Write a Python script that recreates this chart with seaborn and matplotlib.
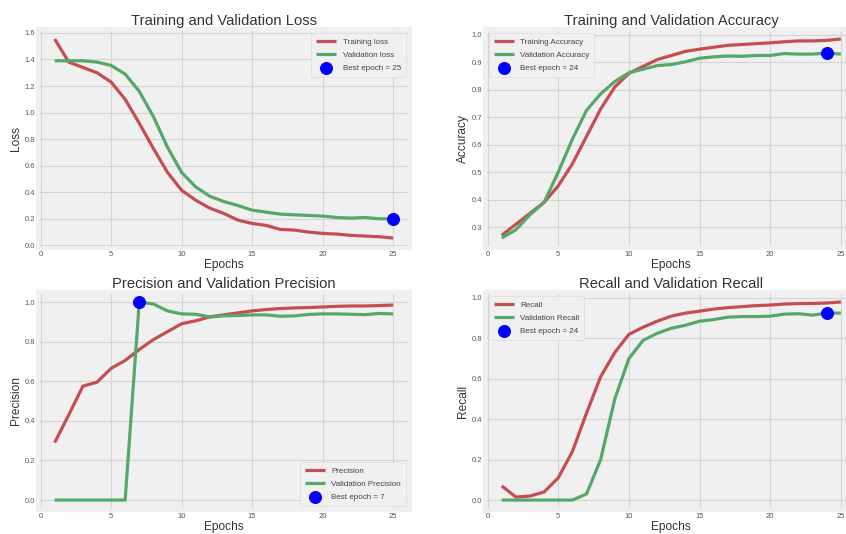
import matplotlib
matplotlib.use('Agg')
import matplotlib.pyplot as plt
import pandas as pd
import seaborn as sns

epochs = list(range(1, 26))

train_loss = [1.554, 1.38, 1.34, 1.30, 1.23, 1.10, 0.92, 0.73, 0.55, 0.415, 0.34, 0.28, 0.24, 0.19, 0.165,
              0.15, 0.12, 0.115, 0.10, 0.09, 0.085, 0.075, 0.07, 0.065, 0.055]
val_loss = [1.39, 1.39, 1.39, 1.38, 1.355, 1.29, 1.16, 0.97, 0.74, 0.55, 0.44, 0.37, 0.33, 0.30, 0.265,
            0.25, 0.235, 0.23, 0.225, 0.22, 0.21, 0.205, 0.21, 0.20, 0.199]

train_acc = [0.27, 0.31, 0.35, 0.39, 0.45, 0.53, 0.63, 0.73, 0.81, 0.86, 0.885, 0.91, 0.925, 0.94, 0.948,
             0.955, 0.962, 0.965, 0.968, 0.971, 0.975, 0.978, 0.978, 0.980, 0.985]
val_acc = [0.26, 0.29, 0.345, 0.39, 0.50, 0.62, 0.725, 0.785, 0.83, 0.862, 0.875, 0.888, 0.892, 0.902, 0.915,
           0.92, 0.923, 0.922, 0.925, 0.925, 0.932, 0.930, 0.930, 0.934, 0.930]

train_prec = [0.29, 0.43, 0.575, 0.595, 0.665, 0.705, 0.76, 0.81, 0.85, 0.89, 0.905, 0.925, 0.935, 0.945, 0.955,
              0.962, 0.967, 0.97, 0.972, 0.975, 0.978, 0.98, 0.98, 0.982, 0.985]
val_prec = [0.0, 0.0, 0.0, 0.0, 0.0, 0.0, 1.0, 0.99, 0.955, 0.94, 0.938, 0.925, 0.93, 0.932, 0.935,
            0.935, 0.928, 0.93, 0.937, 0.94, 0.94, 0.938, 0.936, 0.942, 0.94]

train_rec = [0.07, 0.015, 0.02, 0.04, 0.11, 0.24, 0.43, 0.61, 0.73, 0.82, 0.855, 0.885, 0.91, 0.925, 0.935,
             0.945, 0.952, 0.957, 0.962, 0.965, 0.97, 0.972, 0.973, 0.975, 0.98]
val_rec = [0.0, 0.0, 0.0, 0.0, 0.0, 0.0, 0.03, 0.2, 0.5, 0.7, 0.79, 0.825, 0.85, 0.865, 0.885,
           0.893, 0.905, 0.908, 0.908, 0.91, 0.92, 0.922, 0.915, 0.925, 0.925]

plt.style.use('fivethirtyeight')
plt.rcParams['font.family'] = ['Liberation Sans', 'DejaVu Sans']

RED = '#C44E52'
GREEN = '#55A868'

fig = plt.figure(figsize=(8.46, 5.34), dpi=100, facecolor='white')

# axes rectangles (left, bottom, width, height) in figure fraction
boxes = [
    [0.0446, 0.5356, 0.440, 0.410],
    [0.573, 0.5356, 0.441, 0.410],
    [0.0446, 0.045, 0.440, 0.408],
    [0.573, 0.045, 0.441, 0.408],
]

panels = [
    ('Training and Validation Loss', 'Loss', train_loss, val_loss,
     'Training loss', 'Validation loss', 'min', 'upper right'),
    ('Training and Validation Accuracy', 'Accuracy', train_acc, val_acc,
     'Training Accuracy', 'Validation Accuracy', 'max', 'upper left'),
    ('Precision and Validation Precision', 'Precision', train_prec, val_prec,
     'Precision', 'Validation Precision', 'max', 'lower right'),
    ('Recall and Validation Recall', 'Recall', train_rec, val_rec,
     'Recall', 'Validation Recall', 'max', 'upper left'),
]

for box, (title, ylab, tr, va, trlab, valab, mode, loc) in zip(boxes, panels):
    ax = fig.add_axes(box)
    df = pd.DataFrame({'epoch': epochs, 'train': tr, 'val': va})
    sns.lineplot(data=df, x='epoch', y='train', color=RED, linewidth=2.3, label=trlab, ax=ax)
    sns.lineplot(data=df, x='epoch', y='val', color=GREEN, linewidth=2.3, label=valab, ax=ax)
    idx = df['val'].idxmin() if mode == 'min' else df['val'].idxmax()
    best = df.loc[[idx]]
    sns.scatterplot(data=best, x='epoch', y='val', s=75, color='blue', edgecolor='blue',
                    label='Best epoch = ' + str(int(best['epoch'].iloc[0])), ax=ax, zorder=5)
    ax.set_title(title, fontsize=10.6, pad=3, color='#333333')
    ax.set_xlabel('Epochs', fontsize=8.6, labelpad=1, color='#333333')
    ax.set_ylabel(ylab, fontsize=8.6, labelpad=2, color='#333333')
    ax.tick_params(labelsize=5.5, pad=2, length=0, labelcolor='#555555')
    ax.grid(True, color='#d4d4d4', linewidth=0.8)
    ax.legend(loc=loc, fontsize=5.8, frameon=True, facecolor='#f0f0f0', edgecolor='#dddddd',
              framealpha=1, handlelength=2.5, borderpad=0.6, labelspacing=0.7, labelcolor='#444444')

fig.savefig('out.png', dpi=100, facecolor='white')
